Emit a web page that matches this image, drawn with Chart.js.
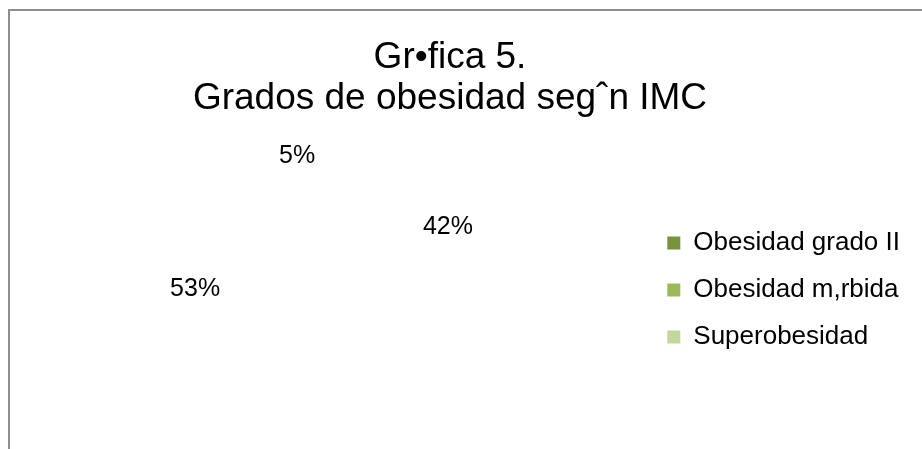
<!DOCTYPE html>
<html>
<head>
<meta charset="utf-8">
<script src="https://cdn.jsdelivr.net/npm/chart.js@4.4.1/dist/chart.umd.min.js"></script>
<style>
    html, body { margin: 0; padding: 0; width: 922px; height: 449px; overflow: hidden; background: #fff; }
    #frame { position: absolute; left: 8px; top: 9px; width: 1000px; height: 600px;
             border-top: 2px solid #8e8e8e; border-left: 2px solid #8e8e8e; }
    #wrap { position: absolute; left: -10px; top: 0; width: 932px; height: 449px; }
</style>
</head>
<body>
<div id="frame"></div>
<div id="wrap"><canvas id="obesidadChart"></canvas></div>
<script>
// datos de la gráfica
const categories = ['Obesidad grado II', 'Obesidad m,rbida', 'Superobesidad'];
const values = [42, 53, 5];
const titleLines = ['Gr\u2022fica 5.', 'Grados de obesidad seg\u02C6n IMC'];

// colores de la leyenda (las porciones salen en blanco como en la imagen)
const legendColors = ['#77933C', '#9BBB59', '#C3D69B'];
const sliceColors = ['#ffffff', '#ffffff', '#ffffff'];

const FONT = '"Liberation Sans", Arial, sans-serif';

// etiquetas de porcentaje sobre la cara superior del pastel 3D
const pieLabels = {
    id: 'pieLabels',
    afterDatasetsDraw(chart) {
        const ctx = chart.ctx;
        const meta = chart.getDatasetMeta(0);
        const total = values.reduce((a, b) => a + b, 0);
        ctx.save();
        ctx.font = '25px ' + FONT;
        ctx.fillStyle = '#000';
        ctx.textAlign = 'center';
        ctx.textBaseline = 'middle';
        meta.data.forEach((arc, i) => {
            const mid = (arc.startAngle + arc.endAngle) / 2;
            const r = arc.outerRadius;
            const x = arc.x + Math.cos(mid) * r * 0.843;
            const y = arc.y - r * 0.246 + Math.sin(mid) * r * 0.606;
            ctx.fillText(Math.round(values[i] / total * 100) + '%', x, y);
        });
        ctx.restore();
    }
};

Chart.defaults.color = '#000';
Chart.defaults.font.family = FONT;

const ctx = document.getElementById('obesidadChart').getContext('2d');
new Chart(ctx, {
    type: 'pie',
    data: {
        labels: categories,
        datasets: [{
            data: values,
            backgroundColor: sliceColors,
            borderWidth: 0
        }]
    },
    options: {
        responsive: true,
        maintainAspectRatio: false,
        animation: false,
        layout: {
            padding: { left: 0, right: 12, top: 0, bottom: 0 }
        },
        plugins: {
            title: {
                display: true,
                text: titleLines,
                color: '#000',
                font: { size: 37, weight: 'normal', lineHeight: 1.108 },
                padding: { top: 37, bottom: 12 }
            },
            legend: {
                position: 'right',
                fullSize: false,
                labels: {
                    boxWidth: 13,
                    boxHeight: 13,
                    padding: 21,
                    color: '#000',
                    font: { size: 26 },
                    generateLabels: function (chart) {
                        const items = Chart.overrides.pie.plugins.legend.labels.generateLabels(chart);
                        items.forEach((item, i) => {
                            item.fillStyle = legendColors[i];
                            item.strokeStyle = legendColors[i];
                            item.lineWidth = 0;
                        });
                        return items;
                    }
                }
            },
            tooltip: { enabled: false }
        }
    },
    plugins: [pieLabels]
});
</script>
</body>
</html>
